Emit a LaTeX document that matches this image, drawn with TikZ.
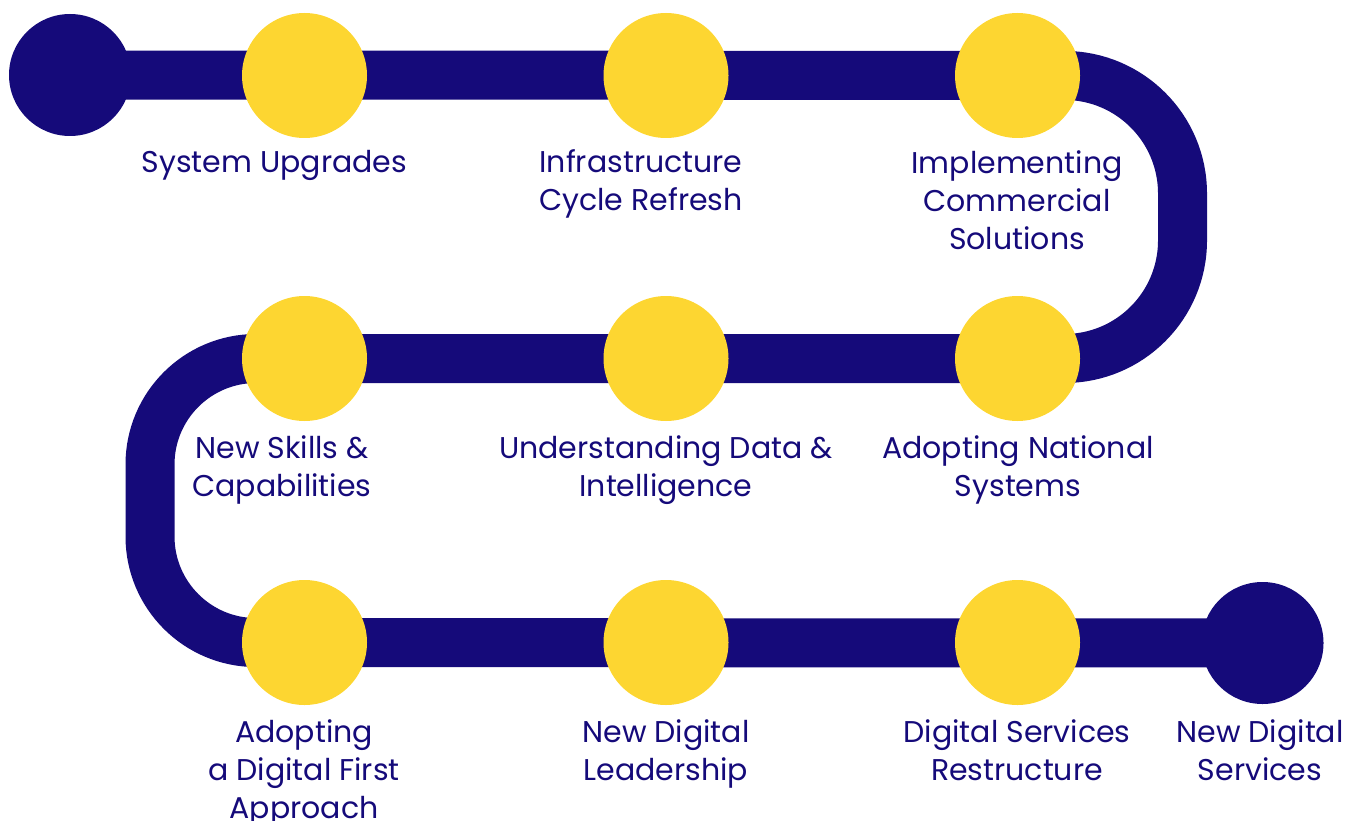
\documentclass[tikz,border=0pt]{standalone}
\usepackage{fontspec}
\setmainfont{Poppins}
\definecolor{navy}{HTML}{150A7A}
\definecolor{sun}{HTML}{FDD631}
\pgfdeclarelayer{background}
\pgfsetlayers{background,main}
\tikzset{
  dot/.style={circle, fill=sun, minimum size=125pt, inner sep=0pt},
  enddot/.style={circle, fill=navy, minimum size=122pt, inner sep=0pt},
  track/.style={draw=navy, line width=49pt, line cap=butt, line join=round},
  lbl/.style={text=navy, align=center, anchor=base, font=\fontsize{30}{38}\selectfont, inner sep=0pt}
}
\begin{document}
\begin{tikzpicture}[x=1pt,y=-1pt]
\useasboundingbox (0,0) rectangle (1359,821);
% nodes
\node[enddot] (s) at (70,75) {};
\node[dot] (c1) at (304.5,75.5) {};
\node[dot] (c2) at (666,75.5) {};
\node[dot] (c3) at (1017.5,75.5) {};
\node[dot] (c4) at (304.5,358.5) {};
\node[dot] (c5) at (666,358.5) {};
\node[dot] (c6) at (1017.5,358.5) {};
\node[dot] (c7) at (304.5,642.5) {};
\node[dot] (c8) at (666,642.5) {};
\node[dot] (c9) at (1017.5,642.5) {};
\node[enddot] (e) at (1262.5,643) {};
\coordinate (r1) at (1182.5,75.5);
\coordinate (r2) at (1182.5,358.5);
\coordinate (q1) at (150,358.5);
\coordinate (q2) at (150,642.5);
\begin{pgfonlayer}{background}
\draw[track, rounded corners=118pt] (s.center) -- (r1) -- (r2) -- (c5.center);
\draw[track, rounded corners=106pt] (c5.center) -- (q1) -- (q2) -- (e.center);
\end{pgfonlayer}
% labels (anchor = baseline of last line)
\node[lbl] (t1) at (274.5,173) {System Upgrades};
\node[lbl] (t2) at (641,211) {Infrastructure\\Cycle Refresh};
\node[lbl] (t3) at (1017,249) {Implementing\\Commercial\\Solutions};
\node[lbl] (t4) at (282,496) {New Skills \&\\Capabilities};
\node[lbl] (t5) at (666,496) {Understanding Data \&\\Intelligence};
\node[lbl] (t6) at (1018,496) {Adopting National\\Systems};
\node[lbl] (t7) at (304,818) {Adopting\\a Digital First\\Approach};
\node[lbl] (t8) at (666,780) {New Digital\\Leadership};
\node[lbl] (t9) at (1017,780) {Digital Services\\Restructure};
\node[lbl] (t10) at (1260,780) {New Digital\\Services};
\end{tikzpicture}
\end{document}
